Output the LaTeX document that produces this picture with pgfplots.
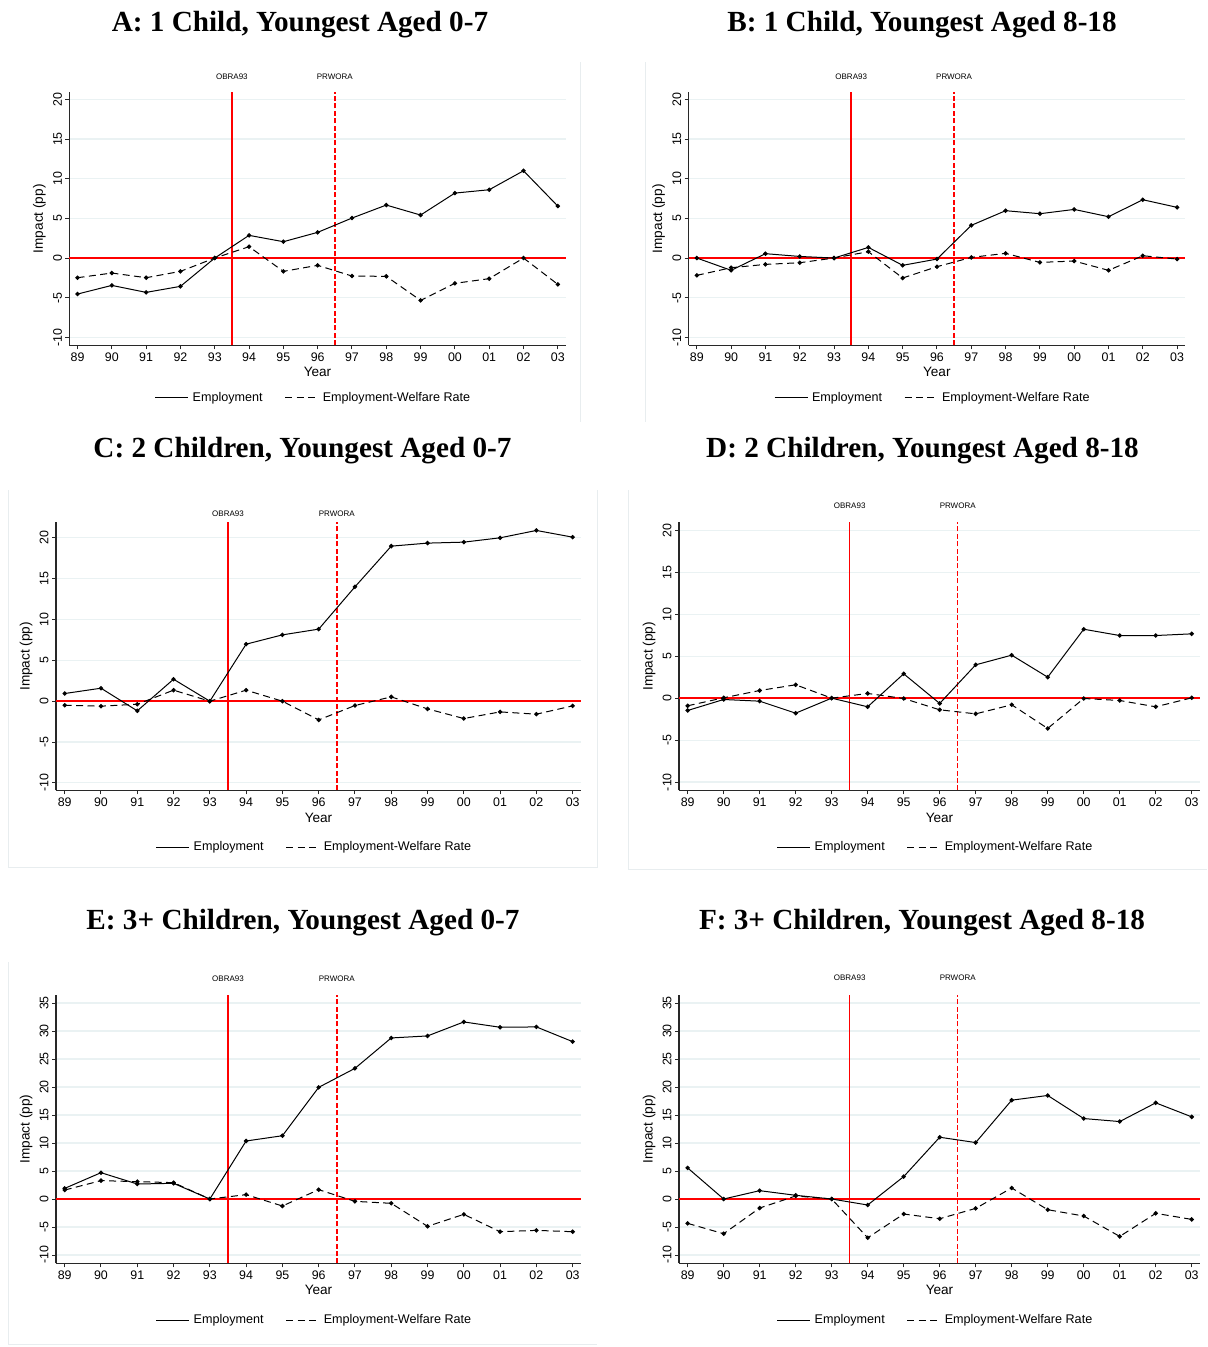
\documentclass[border=0pt]{standalone}
\usepackage{pgfplots}
\pgfplotsset{compat=1.18}
\usepackage{pgfplotstable}
\usepackage{fontspec}
\setmainfont{Liberation Sans}
\newfontfamily\titlefont{Liberation Serif}
\definecolor{gridc}{RGB}{234,242,243}
\definecolor{framec}{RGB}{232,237,239}
\definecolor{axc}{RGB}{40,40,40}
\definecolor{refred}{RGB}{255,0,0}

\pgfplotstableread{
year emp ewr
89 -4.54 -2.48
90 -3.45 -1.89
91 -4.33 -2.48
92 -3.57 -1.68
93 0 0
94 2.86 1.43
95 2.06 -1.68
96 3.24 -0.92
97 5.04 -2.27
98 6.68 -2.31
99 5.42 -5.34
100 8.19 -3.19
101 8.61 -2.60
102 11.0 0
103 6.55 -3.32
}\tabA
\pgfplotstableread{
year emp ewr
89 0 -2.18
90 -1.55 -1.22
91 0.55 -0.80
92 0.20 -0.59
93 0 0
94 1.34 0.80
95 -0.92 -2.52
96 -0.13 -1.09
97 4.12 0.08
98 5.97 0.59
99 5.59 -0.55
100 6.13 -0.38
101 5.21 -1.55
102 7.35 0.29
103 6.39 -0.13
}\tabB
\pgfplotstableread{
year emp ewr
89 0.94 -0.49
90 1.59 -0.61
91 -1.18 -0.37
92 2.69 1.35
93 0 0
94 6.98 1.35
95 8.12 0
96 8.82 -2.29
97 14.0 -0.53
98 18.98 0.53
99 19.35 -0.94
100 19.47 -2.12
101 20.0 -1.31
102 20.9 -1.59
103 20.08 -0.57
}\tabC
\pgfplotstableread{
year emp ewr
89 -1.47 -0.91
90 -0.16 0.04
91 -0.36 0.91
92 -1.79 1.59
93 0 0
94 -1.03 0.56
95 2.90 -0.04
96 -0.63 -1.39
97 3.97 -1.87
98 5.12 -0.79
99 2.50 -3.61
100 8.21 -0.04
101 7.46 -0.28
102 7.46 -1.03
103 7.66 0.04
}\tabD
\pgfplotstableread{
year emp ewr
89 1.90 1.60
90 4.70 3.28
91 2.68 3.10
92 2.80 2.92
93 0 0
94 10.36 0.78
95 11.30 -1.25
96 19.94 1.67
97 23.33 -0.42
98 28.76 -0.77
99 29.12 -4.88
100 31.62 -2.74
101 30.67 -5.84
102 30.73 -5.60
103 28.10 -5.84
}\tabE
\pgfplotstableread{
year emp ewr
89 5.55 -4.35
90 0 -6.20
91 1.49 -1.61
92 0.66 0.54
93 0 0
94 -1.07 -6.92
95 4.00 -2.68
96 11.03 -3.52
97 10.08 -1.67
98 17.65 1.97
99 18.49 -1.91
100 14.37 -3.04
101 13.83 -6.68
102 17.17 -2.56
103 14.67 -3.64
}\tabF

\newcommand\obrafont{\fontsize{4}{5}\selectfont}
\pgfplotsset{
  stata/.style={
    scale only axis, clip=false,
    axis x line*=bottom, axis y line*=left,
    axis line style={-, draw=axc, line width=0.6pt},
    tick align=outside, major tick length=2pt,
    tick style={draw=axc, line width=0.5pt},
    xmin=88.76, xmax=103.23,
    xtick={89,...,103},
    xticklabels={89,90,91,92,93,94,95,96,97,98,99,00,01,02,03},
    ymajorgrids, grid style={draw=gridc, line width=0.6pt},
    xticklabel style={font=\fontsize{6.2}{7}\selectfont, inner sep=1.5pt},
    yticklabel style={font=\fontsize{6.2}{7}\selectfont, rotate=90, anchor=south, inner sep=1.5pt},
    xlabel={Year}, ylabel={Impact (pp)},
    every axis x label/.style={at={(axis description cs:0.5,0)}, anchor=center, yshift=-13.5pt, font=\fontsize{6.8}{8}\selectfont},
    every axis y label/.style={at={(axis description cs:0,0.5)}, rotate=90, anchor=center, yshift=15pt, font=\fontsize{6.8}{8}\selectfont},
    legend columns=2,
    legend style={draw=none, fill=none, font=\fontsize{6.3}{7}\selectfont, at={(axis description cs:0.5,0)}, anchor=center, xshift=-1.5pt, /tikz/every even column/.append style={column sep=9pt}},
    legend image code/.code={\draw[#1] (0pt,0pt) -- (16.5pt,0pt);},
    legend entries={Employment,Employment-Welfare Rate},
  },
  smallrange/.style={ytick={-10,-5,0,5,10,15,20}, yticklabels={-10,-5,0,5,10,15,20}},
  bigrange/.style={ytick={-10,-5,0,5,10,15,20,25,30,35}, yticklabels={-10,-5,0,5,10,15,20,25,30,35}},
  emp/.style={black, line width=0.5pt, mark=*, mark size=0.85pt, mark options={solid, fill=black}},
  ewr/.style={black, line width=0.5pt, dash pattern=on 3.5pt off 2.2pt, mark=*, mark size=0.85pt, mark options={solid, fill=black}},
}
\newcommand\reflines[3]{%
  \draw[refred, line width=0.8pt] (axis cs:88.76,0) -- (axis cs:103.23,0);
  \draw[refred, line width=0.8pt] (axis cs:93.5,#1) -- (axis cs:93.5,#2);
  \draw[refred, line width=0.8pt, dash pattern=on 2.5pt off 1.2pt] (axis cs:96.5,#1) -- (axis cs:96.5,#2);
  \node[font=\obrafont, yshift=#3] at (axis cs:93.5,#2) {OBRA93};
  \node[font=\obrafont, yshift=#3] at (axis cs:96.5,#2) {PRWORA};
}
\newcommand\dataplots[1]{%
  \addplot[emp] table[x=year,y=emp] {#1};
  \addplot[ewr] table[x=year,y=ewr] {#1};
}
\newcommand\ttl[1]{{\titlefont\bfseries\fontsize{14.6}{16}\selectfont #1}}

\begin{document}
\begin{tikzpicture}
\path[use as bounding box] (0,0) rectangle (603.5pt,673.5pt);
% faint panel frames
\draw[framec, line width=0.5pt] (290pt,642.5pt) -- (290pt,462.5pt);
\draw[framec, line width=0.5pt] (322.5pt,642.5pt) -- (322.5pt,462.5pt);
\draw[framec, line width=0.5pt] (4pt,428.5pt) -- (4pt,239.5pt) -- (298.5pt,239.5pt) -- (298.5pt,428.5pt);
\draw[framec, line width=0.5pt] (314pt,428.5pt) -- (314pt,238.5pt) -- (603.5pt,238.5pt);
\draw[framec, line width=0.5pt] (4pt,192.5pt) -- (4pt,1pt) -- (298.5pt,1pt);

% titles
\node[anchor=base] at (150pt,657.65pt) {\ttl{A: 1 Child, Youngest Aged 0-7}};
\node[anchor=base] at (461pt,657.65pt) {\ttl{B: 1 Child, Youngest Aged 8-18}};
\node[anchor=base] at (151.25pt,444.5pt) {\ttl{C: 2 Children, Youngest Aged 0-7}};
\node[anchor=base] at (461.25pt,444.5pt) {\ttl{D: 2 Children, Youngest Aged 8-18}};
\node[anchor=base] at (151.5pt,208.5pt) {\ttl{E: 3+ Children, Youngest Aged 0-7}};
\node[anchor=base] at (461pt,208.5pt) {\ttl{F: 3+ Children, Youngest Aged 8-18}};

% Panel A
\begin{axis}[stata, smallrange, at={(34.65pt,500.85pt)}, anchor=south west,
  width=248.2pt, height=126.5pt, ymin=-11, ymax=20.9,
  legend style={yshift=-26.35pt}]
\reflines{-11}{20.9}{8pt}
\dataplots{\tabA}
\end{axis}

% Panel B
\begin{axis}[stata, smallrange, at={(344.3pt,500.85pt)}, anchor=south west,
  width=248.2pt, height=126.5pt, ymin=-11, ymax=20.9,
  legend style={yshift=-26.35pt}]
\reflines{-11}{20.9}{8pt}
\dataplots{\tabB}
\end{axis}

% Panel C
\begin{axis}[stata, smallrange, at={(28pt,278.25pt)}, anchor=south west,
  width=262.5pt, height=134.1pt, ymin=-10.93, ymax=21.9,
  legend style={yshift=-28.35pt}]
\reflines{-10.93}{21.9}{4.5pt}
\dataplots{\tabC}
\end{axis}

% Panel D
\begin{axis}[stata, smallrange, at={(339.5pt,278.25pt)}, anchor=south west,
  width=260.5pt, height=134.1pt, ymin=-11, ymax=20.95,
  legend style={yshift=-28.35pt}]
\reflines{-11}{20.95}{8.5pt}
\dataplots{\tabD}
\end{axis}

% Panel E
\begin{axis}[stata, bigrange, at={(28pt,41.85pt)}, anchor=south west,
  width=262.5pt, height=134.15pt, ymin=-11.48, ymax=36.43,
  legend style={yshift=-28.35pt}]
\reflines{-11.48}{36.43}{8.2pt}
\dataplots{\tabE}
\end{axis}

% Panel F
\begin{axis}[stata, bigrange, at={(339.5pt,41.85pt)}, anchor=south west,
  width=260.5pt, height=134.15pt, ymin=-11.48, ymax=36.43,
  legend style={yshift=-28.35pt}]
\reflines{-11.48}{36.43}{8.5pt}
\dataplots{\tabF}
\end{axis}
\end{tikzpicture}
\end{document}
